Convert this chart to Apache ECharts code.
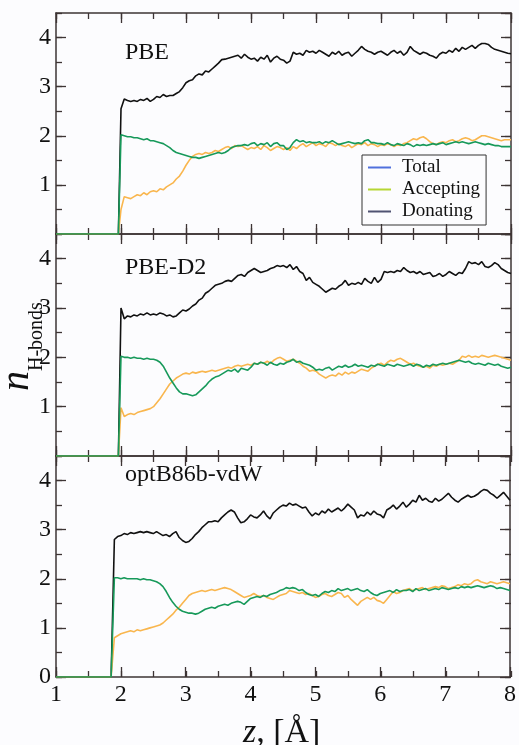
<!DOCTYPE html>
<html>
<head>
<meta charset="utf-8">
<script src="https://cdn.jsdelivr.net/npm/echarts@6/dist/echarts.min.js"></script>
</head>
<body style="margin:0;background:#fcfcfe">
<div id="chart" style="width:519px;height:745px"></div>
<script>
// panel titles and legend names
var panelNames = ['PBE', 'PBE-D2', 'optB86b-vdW'];
var seriesNames = ['Total', 'Accepting', 'Donating'];

// z where each panel jumps up from zero, and first z of its 0.05 grid
var jumpZ = [1.96, 1.96, 1.85];
var gridStart = [2.00, 2.00, 1.90];

// PBE, z = 2.00 ... 8.00 step 0.05
var pbeTotal = [
  2.55, 2.75, 2.72, 2.70, 2.72, 2.70, 2.74, 2.72, 2.76, 2.70,
  2.74, 2.80, 2.78, 2.84, 2.80, 2.82, 2.82, 2.86, 2.90, 2.98,
  3.08, 3.12, 3.14, 3.22, 3.26, 3.24, 3.32, 3.30, 3.36, 3.42,
  3.48, 3.55, 3.56, 3.58, 3.60, 3.62, 3.64, 3.58, 3.66, 3.60,
  3.56, 3.58, 3.52, 3.60, 3.56, 3.64, 3.50, 3.58, 3.62, 3.56,
  3.54, 3.48, 3.52, 3.70, 3.66, 3.68, 3.64, 3.74, 3.70, 3.72,
  3.68, 3.74, 3.70, 3.66, 3.62, 3.70, 3.66, 3.72, 3.64, 3.68,
  3.70, 3.62, 3.68, 3.74, 3.82, 3.76, 3.72, 3.70, 3.66, 3.70,
  3.72, 3.68, 3.64, 3.70, 3.74, 3.68, 3.72, 3.64, 3.70, 3.82,
  3.74, 3.70, 3.66, 3.70, 3.68, 3.64, 3.62, 3.58, 3.66, 3.70,
  3.68, 3.74, 3.70, 3.78, 3.72, 3.80, 3.76, 3.80, 3.84, 3.78,
  3.84, 3.88, 3.88, 3.86, 3.80, 3.76, 3.74, 3.72, 3.70, 3.68,
  3.67
];
var pbeAccepting = [
  0.50, 0.76, 0.74, 0.72, 0.76, 0.80, 0.78, 0.84, 0.80, 0.86,
  0.88, 0.86, 0.92, 0.90, 0.96, 1.00, 1.04, 1.12, 1.18, 1.28,
  1.40, 1.50, 1.58, 1.62, 1.64, 1.62, 1.66, 1.64, 1.66, 1.70,
  1.68, 1.72, 1.76, 1.78, 1.74, 1.80, 1.78, 1.80, 1.76, 1.72,
  1.76, 1.74, 1.78, 1.72, 1.80, 1.76, 1.70, 1.74, 1.78, 1.76,
  1.72, 1.76, 1.70, 1.78, 1.74, 1.80, 1.84, 1.78, 1.82, 1.86,
  1.80, 1.84, 1.82, 1.78, 1.86, 1.84, 1.80, 1.84, 1.80, 1.78,
  1.82, 1.76, 1.80, 1.84, 1.82, 1.86, 1.80, 1.84, 1.82, 1.78,
  1.82, 1.80, 1.84, 1.82, 1.78, 1.82, 1.80, 1.84, 1.86, 1.90,
  1.94, 1.92, 1.96, 1.98, 1.94, 1.88, 1.84, 1.82, 1.86, 1.88,
  1.86, 1.90, 1.92, 1.88, 1.90, 1.94, 1.96, 1.94, 1.90, 1.92,
  1.96, 2.00, 2.00, 1.98, 1.96, 1.94, 1.92, 1.90, 1.92, 1.92,
  1.92
];
var pbeDonating = [
  2.02, 2.00, 1.98, 1.98, 1.96, 1.96, 1.94, 1.92, 1.94, 1.90,
  1.90, 1.88, 1.86, 1.84, 1.80, 1.76, 1.70, 1.66, 1.64, 1.62,
  1.60, 1.58, 1.56, 1.56, 1.54, 1.56, 1.58, 1.60, 1.62, 1.64,
  1.66, 1.64, 1.66, 1.70, 1.76, 1.78, 1.80, 1.80, 1.82, 1.80,
  1.84, 1.86, 1.80, 1.84, 1.82, 1.86, 1.78, 1.84, 1.86, 1.80,
  1.80, 1.72, 1.76, 1.86, 1.92, 1.88, 1.90, 1.86, 1.88, 1.86,
  1.86, 1.88, 1.84, 1.88, 1.86, 1.90, 1.86, 1.82, 1.84, 1.86,
  1.88, 1.86, 1.84, 1.86, 1.84, 1.90, 1.92, 1.86, 1.86, 1.84,
  1.84, 1.82, 1.86, 1.82, 1.80, 1.84, 1.82, 1.80, 1.84, 1.82,
  1.78, 1.82, 1.80, 1.82, 1.80, 1.82, 1.84, 1.82, 1.84, 1.86,
  1.82, 1.84, 1.86, 1.88, 1.86, 1.88, 1.86, 1.84, 1.86, 1.88,
  1.86, 1.84, 1.82, 1.84, 1.82, 1.80, 1.80, 1.78, 1.78, 1.78,
  1.78
];

// PBE-D2, z = 2.00 ... 8.00 step 0.05
var d2Total = [
  3.00, 2.78, 2.84, 2.82, 2.86, 2.84, 2.88, 2.86, 2.90, 2.86,
  2.88, 2.86, 2.90, 2.88, 2.84, 2.86, 2.82, 2.84, 2.90, 2.96,
  2.94, 2.98, 3.04, 3.08, 3.16, 3.20, 3.30, 3.34, 3.40, 3.46,
  3.48, 3.50, 3.54, 3.56, 3.54, 3.60, 3.66, 3.68, 3.64, 3.72,
  3.76, 3.80, 3.76, 3.72, 3.74, 3.76, 3.80, 3.82, 3.86, 3.84,
  3.86, 3.82, 3.88, 3.78, 3.84, 3.74, 3.70, 3.56, 3.62, 3.52,
  3.48, 3.44, 3.38, 3.32, 3.36, 3.40, 3.38, 3.44, 3.48, 3.56,
  3.46, 3.50, 3.48, 3.52, 3.48, 3.60, 3.54, 3.50, 3.62, 3.52,
  3.58, 3.74, 3.72, 3.74, 3.72, 3.76, 3.74, 3.82, 3.76, 3.72,
  3.74, 3.70, 3.74, 3.68, 3.70, 3.72, 3.64, 3.66, 3.70, 3.64,
  3.68, 3.74, 3.70, 3.66, 3.72, 3.70, 3.80, 3.94, 3.90, 3.92,
  3.88, 3.94, 3.84, 3.82, 3.86, 3.92, 3.88, 3.80, 3.76, 3.72,
  3.70
];
var d2Accepting = [
  0.98, 0.80, 0.84, 0.86, 0.84, 0.88, 0.90, 0.92, 0.94, 0.96,
  1.00, 1.08, 1.16, 1.26, 1.36, 1.46, 1.52, 1.58, 1.62, 1.66,
  1.68, 1.66, 1.70, 1.68, 1.70, 1.72, 1.70, 1.72, 1.74, 1.72,
  1.74, 1.76, 1.78, 1.80, 1.78, 1.82, 1.84, 1.82, 1.84, 1.86,
  1.84, 1.88, 1.86, 1.90, 1.88, 1.92, 1.88, 1.94, 1.98, 2.00,
  1.96, 1.92, 1.94, 1.96, 1.92, 1.88, 1.82, 1.78, 1.72, 1.74,
  1.72, 1.66, 1.62, 1.58, 1.62, 1.64, 1.62, 1.68, 1.64, 1.70,
  1.66, 1.70, 1.68, 1.72, 1.76, 1.74, 1.72, 1.78, 1.82, 1.86,
  1.88, 1.84, 1.90, 1.94, 1.92, 1.96, 1.98, 1.94, 1.90, 1.86,
  1.88, 1.84, 1.82, 1.80, 1.82, 1.78, 1.84, 1.82, 1.86, 1.84,
  1.86, 1.88, 1.86, 1.90, 1.94, 2.02, 2.00, 2.04, 2.00, 2.02,
  2.00, 2.04, 2.02, 2.00, 2.02, 2.04, 2.02, 2.00, 1.98, 1.96,
  1.94
];
var d2Donating = [
  2.02, 2.00, 2.00, 1.98, 2.00, 1.98, 1.98, 1.96, 1.98, 1.96,
  1.96, 1.94, 1.90, 1.82, 1.70, 1.58, 1.48, 1.38, 1.30, 1.26,
  1.26, 1.24, 1.22, 1.24, 1.30, 1.36, 1.42, 1.50, 1.56, 1.60,
  1.62, 1.66, 1.70, 1.74, 1.72, 1.76, 1.70, 1.78, 1.76, 1.74,
  1.80, 1.88, 1.86, 1.90, 1.88, 1.84, 1.90, 1.86, 1.84, 1.88,
  1.86, 1.90, 1.92, 1.96, 1.90, 1.92, 1.88, 1.86, 1.84, 1.80,
  1.74, 1.76, 1.74, 1.78, 1.80, 1.74, 1.78, 1.82, 1.80, 1.84,
  1.80, 1.82, 1.86, 1.82, 1.84, 1.82, 1.80, 1.84, 1.82, 1.86,
  1.84, 1.82, 1.86, 1.84, 1.82, 1.86, 1.84, 1.82, 1.84, 1.86,
  1.82, 1.86, 1.84, 1.80, 1.84, 1.82, 1.86, 1.84, 1.86, 1.88,
  1.86, 1.88, 1.90, 1.92, 1.94, 1.92, 1.90, 1.92, 1.88, 1.86,
  1.88, 1.86, 1.84, 1.88, 1.86, 1.84, 1.86, 1.82, 1.80, 1.78,
  1.80
];

// optB86b-vdW, z = 1.90 ... 8.00 step 0.05
var optTotal = [
  2.80, 2.86, 2.88, 2.92, 2.90, 2.94, 2.92, 2.94, 2.96, 2.94,
  2.96, 2.94, 2.92, 2.96, 2.92, 2.88, 2.90, 2.86, 2.92, 2.96,
  2.84, 2.78, 2.74, 2.76, 2.82, 2.90, 2.96, 3.04, 3.10, 3.16,
  3.16, 3.18, 3.16, 3.24, 3.30, 3.36, 3.40, 3.36, 3.24, 3.14,
  3.16, 3.22, 3.30, 3.26, 3.24, 3.30, 3.38, 3.28, 3.22, 3.34,
  3.40, 3.46, 3.50, 3.48, 3.54, 3.50, 3.52, 3.48, 3.44, 3.46,
  3.36, 3.28, 3.34, 3.30, 3.38, 3.34, 3.42, 3.36, 3.40, 3.44,
  3.38, 3.44, 3.52, 3.46, 3.40, 3.24, 3.30, 3.28, 3.36, 3.30,
  3.38, 3.32, 3.30, 3.24, 3.40, 3.44, 3.50, 3.42, 3.48, 3.56,
  3.46, 3.52, 3.60, 3.56, 3.70, 3.60, 3.64, 3.58, 3.56, 3.64,
  3.58, 3.62, 3.68, 3.74, 3.66, 3.60, 3.56, 3.62, 3.66, 3.70,
  3.66, 3.68, 3.72, 3.78, 3.82, 3.80, 3.74, 3.70, 3.64, 3.70,
  3.76, 3.68, 3.60
];
var optAccepting = [
  0.80, 0.84, 0.88, 0.90, 0.92, 0.94, 0.92, 0.96, 0.94, 0.96,
  0.98, 1.00, 1.02, 1.04, 1.06, 1.10, 1.16, 1.22, 1.28, 1.36,
  1.42, 1.50, 1.58, 1.66, 1.70, 1.72, 1.74, 1.76, 1.74, 1.76,
  1.78, 1.76, 1.78, 1.80, 1.82, 1.80, 1.78, 1.74, 1.70, 1.66,
  1.62, 1.64, 1.66, 1.70, 1.66, 1.64, 1.66, 1.62, 1.60, 1.58,
  1.62, 1.66, 1.68, 1.70, 1.76, 1.74, 1.72, 1.70, 1.72, 1.68,
  1.70, 1.66, 1.62, 1.64, 1.68, 1.70, 1.66, 1.64, 1.68, 1.72,
  1.70, 1.62, 1.66, 1.58, 1.52, 1.46, 1.54, 1.58, 1.62, 1.58,
  1.62, 1.56, 1.54, 1.50, 1.58, 1.66, 1.74, 1.70, 1.72, 1.76,
  1.78, 1.80, 1.76, 1.78, 1.80, 1.82, 1.78, 1.80, 1.82, 1.84,
  1.82, 1.86, 1.84, 1.80, 1.82, 1.84, 1.88, 1.86, 1.90, 1.88,
  1.90, 1.96, 1.98, 1.94, 1.92, 1.90, 1.94, 1.92, 1.90, 1.92,
  1.94, 1.92, 1.90
];
var optDonating = [
  2.02, 2.02, 2.00, 2.02, 2.00, 2.00, 2.00, 2.00, 1.98, 2.00,
  1.98, 1.98, 1.96, 1.94, 1.90, 1.84, 1.74, 1.62, 1.52, 1.44,
  1.38, 1.34, 1.32, 1.30, 1.30, 1.28, 1.30, 1.34, 1.38, 1.40,
  1.42, 1.40, 1.44, 1.46, 1.48, 1.46, 1.50, 1.52, 1.54, 1.52,
  1.48, 1.54, 1.60, 1.62, 1.64, 1.62, 1.66, 1.64, 1.68, 1.70,
  1.72, 1.76, 1.78, 1.82, 1.80, 1.82, 1.80, 1.76, 1.78, 1.72,
  1.68, 1.66, 1.68, 1.64, 1.70, 1.74, 1.72, 1.76, 1.74, 1.80,
  1.76, 1.78, 1.80, 1.76, 1.78, 1.80, 1.76, 1.74, 1.78, 1.72,
  1.68, 1.66, 1.70, 1.72, 1.74, 1.76, 1.72, 1.78, 1.74, 1.76,
  1.76, 1.78, 1.74, 1.80, 1.76, 1.78, 1.80, 1.76, 1.78, 1.80,
  1.78, 1.82, 1.80, 1.78, 1.80, 1.82, 1.80, 1.84, 1.82, 1.84,
  1.82, 1.84, 1.86, 1.84, 1.82, 1.84, 1.86, 1.84, 1.80, 1.82,
  1.80, 1.78, 1.76
];

var panelData = [
  [pbeTotal, pbeAccepting, pbeDonating],
  [d2Total, d2Accepting, d2Donating],
  [optTotal, optAccepting, optDonating]
];

var colors = ['#111111', '#f9b64e', '#17995a'];
var frameColor = '#3d3434';
var serif = 'Liberation Serif';

var chart = echarts.init(document.getElementById('chart'));

// three panels; grids 3..5 repeat them and only carry the 0.5-step minor ticks
var panelRects = [
  { left: 56, top: 13, width: 455, height: 221 },
  { left: 56, top: 234, width: 455, height: 222 },
  { left: 56, top: 456, width: 455, height: 221 }
];
var grids = panelRects.concat(panelRects.map(function (r) {
  return { left: r.left, top: r.top, width: r.width, height: r.height };
}));

var xAxes = [], yAxes = [], series = [];

function xAxisFor(gi, pos, major, withLabels) {
  return {
    type: 'value', gridIndex: gi, position: pos, min: 1, max: 8, interval: major ? 1 : 0.5,
    axisLine: { show: major, onZero: false, lineStyle: { color: frameColor, width: 1.5 } },
    axisTick: { show: true, inside: true, length: major ? 10 : 6, lineStyle: { color: frameColor, width: 1.3 } },
    axisLabel: { show: withLabels, margin: 6, fontFamily: serif, fontSize: 24, color: '#111' },
    splitLine: { show: false }
  };
}
function yAxisFor(gi, pos, major, withLabels, showZero) {
  return {
    type: 'value', gridIndex: gi, position: pos, min: 0, max: 4.5, interval: major ? 1 : 0.5,
    axisLine: { show: major, onZero: false, lineStyle: { color: frameColor, width: 1.5 } },
    axisTick: { show: true, inside: true, length: major ? 10 : 6, lineStyle: { color: frameColor, width: 1.3 } },
    axisLabel: {
      show: withLabels, margin: 5, showMinLabel: showZero, showMaxLabel: false,
      fontFamily: serif, fontSize: 24, color: '#111'
    },
    splitLine: { show: false }
  };
}

// main axes: x 2*gi bottom / 2*gi+1 top, y 2*gi left / 2*gi+1 right
panelRects.forEach(function (r, gi) {
  var last = gi === panelRects.length - 1;
  xAxes.push(xAxisFor(gi, 'bottom', true, last));
  xAxes.push(xAxisFor(gi, 'top', true, false));
  yAxes.push(yAxisFor(gi, 'left', true, true, last));
  yAxes.push(yAxisFor(gi, 'right', true, false, false));
});
// minor-tick axes on the repeated grids
panelRects.forEach(function (r, gi) {
  var mg = gi + panelRects.length;
  xAxes.push(xAxisFor(mg, 'bottom', false, false));
  xAxes.push(xAxisFor(mg, 'top', false, false));
  yAxes.push(yAxisFor(mg, 'left', false, false, false));
  yAxes.push(yAxisFor(mg, 'right', false, false, false));
});

panelData.forEach(function (set, gi) {
  var zs = set[0].map(function (v, i) {
    return +(gridStart[gi] + i * 0.05).toFixed(2);
  });
  set.forEach(function (vals, si) {
    var data = [[1, 0], [jumpZ[gi], 0]].concat(vals.map(function (v, i) { return [zs[i], v]; }));
    series.push({
      name: seriesNames[si], type: 'line',
      xAxisIndex: gi * 2, yAxisIndex: gi * 2,
      data: data, symbol: 'none', silent: true,
      lineStyle: { color: colors[si], width: 1.6 },
      z: 3 + si
    });
  });
});

var panelLabelY = [55, 270, 477];
var graphics = panelNames.map(function (name, i) {
  return {
    type: 'text', x: 125, y: panelLabelY[i] - 14,
    style: { text: name, font: '24px "' + serif + '"', fill: '#111' }
  };
});
// y title, rotated: italic n with subscript
graphics.push({
  type: 'text', x: 17, y: 391, rotation: Math.PI / 2,
  style: { text: 'n', font: 'italic 40px "' + serif + '"', fill: '#111', verticalAlign: 'middle' }
});
graphics.push({
  type: 'text', x: 37, y: 371, rotation: Math.PI / 2,
  style: { text: 'H-bonds', font: '20px "' + serif + '"', fill: '#111', verticalAlign: 'middle' }
});
graphics.push({
  type: 'text', x: 243, y: 716,
  style: {
    text: '{i|z}{r|, [Å]}',
    rich: {
      i: { fontFamily: serif, fontStyle: 'italic', fontSize: 34, fill: '#111' },
      r: { fontFamily: serif, fontSize: 34, fill: '#111' }
    }
  }
});

chart.setOption({
  animation: false,
  backgroundColor: '#fcfcfe',
  legend: {
    data: seriesNames, orient: 'vertical', left: 362, top: 155,
    icon: 'rect', itemWidth: 23, itemHeight: 2, itemGap: 3,
    padding: [3, 6, 4, 6],
    borderColor: '#333', borderWidth: 1, borderRadius: 0,
    textStyle: { fontFamily: serif, fontSize: 19, color: '#111', padding: [0, 0, 0, 6] }
  },
  graphic: graphics,
  grid: grids,
  xAxis: xAxes,
  yAxis: yAxes,
  series: series
});
</script>
</body>
</html>
